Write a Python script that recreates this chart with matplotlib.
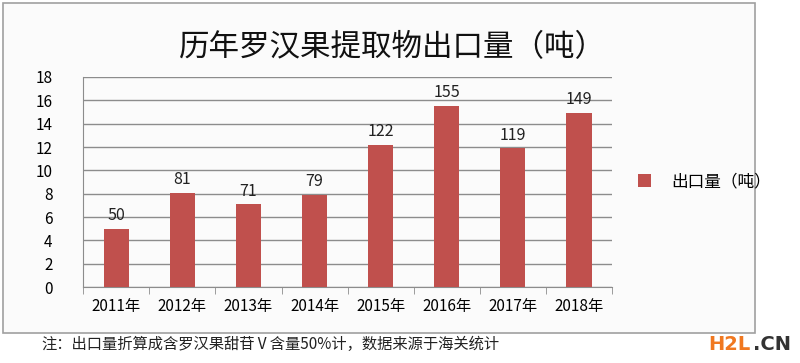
import numpy as np
import matplotlib.pyplot as plt
from matplotlib.patches import Rectangle

plt.rcParams['font.family'] = ['Noto Sans CJK SC', 'DejaVu Sans']

years = ['2011年', '2012年', '2013年', '2014年', '2015年', '2016年', '2017年', '2018年']
heights = [5.0, 8.1, 7.1, 7.9, 12.2, 15.5, 11.9, 14.9]
labels = ['50', '81', '71', '79', '122', '155', '119', '149']
yticks = [0, 2, 4, 6, 8, 10, 12, 14, 16, 18]

fig = plt.figure(figsize=(8, 3.63), dpi=100)
fig.patch.set_facecolor('white')

# outer frame of the chart
frame = Rectangle((0.004, 0.083), 0.94, 0.91, transform=fig.transFigure,
                  facecolor='#fbfbfb', edgecolor='#a0a0a0', lw=1.2, zorder=-10)
fig.patches.append(frame)

ax = fig.add_axes([0.104, 0.209, 0.661, 0.579])
ax.set_facecolor('none')
x = np.arange(len(years))
ax.bar(x, heights, width=0.38, color='#C0504D', zorder=3, label='出口量（吨）')

for xi, h, lab in zip(x, heights, labels):
    ax.text(xi, h + 0.4, lab, ha='center', va='bottom', fontsize=11.5, color='#222222')

ax.set_xlim(-0.5, len(years) - 0.5)
ax.set_ylim(0, 18)
ax.set_yticks(yticks)
ax.set_yticklabels([str(t) for t in yticks], fontsize=11)
ax.yaxis.grid(True, color='#8c8c8c', lw=1, zorder=0)
ax.tick_params(axis='y', length=0, pad=22)

ax.set_xticks(x)
ax.set_xticklabels(years, fontsize=11)
ax.set_xticks(np.arange(-0.5, len(years), 1), minor=True)
ax.tick_params(axis='x', which='major', length=0, pad=8)
ax.tick_params(axis='x', which='minor', length=5, direction='out', color='#8c8c8c')

for s in ['top', 'right']:
    ax.spines[s].set_visible(False)
ax.spines['left'].set_color('#8c8c8c')
ax.spines['bottom'].set_color('#8c8c8c')

ax.legend(loc='center left', bbox_to_anchor=(1.02, 0.5), frameon=False,
          fontsize=12, handlelength=0.8, handleheight=0.8, handletextpad=1.2)

fig.text(0.49, 0.87, '历年罗汉果提取物出口量（吨）', ha='center', va='center',
         fontsize=22, color='#111111')
fig.text(0.052, 0.05, '注：出口量折算成含罗汉果甜苷Ⅴ含量50%计，数据来源于海关统计',
         ha='left', va='center', fontsize=11, color='#222222')
fig.text(0.885, 0.05, 'H2L', ha='left', va='center', fontsize=14, fontweight='bold',
         color='#f07820', family=['DejaVu Sans'])
fig.text(0.941, 0.05, '.CN', ha='left', va='center', fontsize=14, fontweight='bold',
         color='#333333', family=['DejaVu Sans'])

fig.savefig('out.png', dpi=100)
